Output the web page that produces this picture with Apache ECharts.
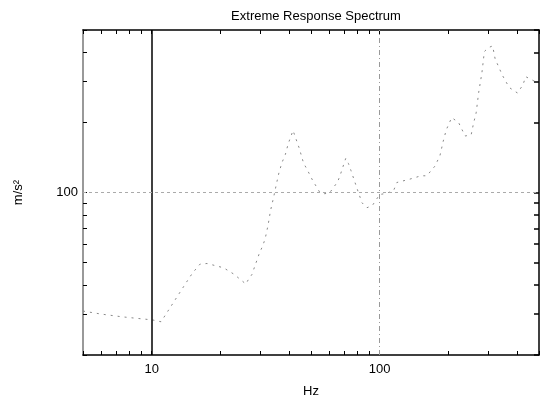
<!DOCTYPE html>
<html><head><meta charset="utf-8">
<script src="https://cdn.jsdelivr.net/npm/echarts@6/dist/echarts.min.js"></script>
<style>html,body{margin:0;padding:0;background:#fff}#c{width:542px;height:403px}</style>
</head><body><div id="c"></div>
<script>
// ---- data ----
const freqHz = [5, 6, 7.4, 9.1, 10.1, 11, 14, 15.1, 16.3, 17.5, 19.3, 20.7, 22.9, 25.9, 26.7, 27.5, 29, 29.7, 30.7, 31.5, 32.4, 33.2, 34.3, 35.3, 36.2, 37.3, 38.6, 39.7, 41.7, 44.4, 46.4, 47.9, 50.8, 54.7, 57.5, 60.5, 65.4, 67.1, 71, 73, 74.9, 77.2, 79.4, 83.7, 88, 93, 100, 106, 115, 119, 135, 152, 161, 175, 184, 190, 196, 207, 222, 237, 252, 258, 265, 272, 281, 288, 300, 313, 321, 345, 370, 402, 425, 437, 475, 500];
const accel = [30.9, 30.0, 29.2, 28.6, 28.3, 27.8, 40.2, 45, 49.2, 49.5, 48.3, 47.4, 44.6, 40.4, 42.6, 44.3, 51.3, 54.9, 58.9, 63.5, 72.2, 83.3, 95.7, 109.3, 122, 134.5, 145.8, 161.8, 184.8, 155.1, 133.6, 126.5, 112.9, 100, 98.8, 100, 111.1, 118.5, 140.2, 133.2, 124.1, 113.7, 104.8, 90.3, 86, 88, 98, 99, 101.6, 110.4, 114, 118, 118, 130, 144.5, 166, 186, 210, 200, 175, 177, 198, 220, 270, 328, 404, 420, 427, 376, 320, 283, 268, 290, 315, 302, 305];
const xTickValues = [5, 6, 7, 8, 9, 10, 20, 30, 40, 50, 60, 70, 80, 90, 100, 200, 300, 400, 500];
const yTickValues = [20, 30, 40, 50, 60, 70, 80, 90, 100, 200, 300, 400, 500];
const xLabelValues = [10, 100];
const yLabelValues = [100];
const titleText = 'Extreme Response Spectrum';
const xName = 'Hz';
const yName = 'm/s\u00b2';

const font = "'Liberation Sans', Arial, sans-serif";
const chart = echarts.init(document.getElementById('c'), null, {renderer: 'canvas'});

function xAxisDef(pos, labels, lineColor, lineWidth) {
  return {
    type: 'log', logBase: 10, min: 5, max: 500, position: pos,
    splitLine: {show: false},
    axisLine: {show: true, onZero: false, lineStyle: {color: lineColor, width: lineWidth}},
    axisTick: {show: true, inside: true, length: 4, customValues: xTickValues, lineStyle: {color: '#000', width: 1}},
    axisLabel: labels ? {show: true, customValues: xLabelValues, margin: 8, fontSize: 13, fontFamily: font, color: '#000'} : {show: false},
    name: labels ? xName : '', nameLocation: 'middle', nameGap: 30,
    nameTextStyle: {fontSize: 13, fontFamily: font, color: '#000'}
  };
}
function yAxisDef(pos, labels, lineColor, lineWidth, tickLen, tickWidth) {
  return {
    type: 'log', logBase: 10, min: 20, max: 500, position: pos,
    splitLine: {show: false},
    axisLine: {show: true, onZero: false, lineStyle: {color: lineColor, width: lineWidth}},
    axisTick: {show: true, inside: true, length: tickLen, customValues: yTickValues, lineStyle: {color: '#000', width: tickWidth}},
    axisLabel: labels ? {show: true, customValues: yLabelValues, margin: 5, fontSize: 13, fontFamily: font, color: '#000'} : {show: false},
    name: labels ? yName : '', nameLocation: 'middle', nameGap: 58, nameRotate: 90,
    nameTextStyle: {fontSize: 13, fontFamily: font, color: '#000'}
  };
}

chart.setOption({
  animation: false,
  backgroundColor: '#fff',
  title: {
    text: titleText, left: 311, top: 5, textAlign: 'center',
    textStyle: {fontSize: 13, fontWeight: 'normal', fontFamily: font, color: '#000'}
  },
  grid: {left: 83, right: 3, top: 30, bottom: 41, show: false},
  xAxis: [xAxisDef('bottom', true, '#000', 1.5), xAxisDef('top', false, '#000', 1.5)],
  yAxis: [yAxisDef('left', true, '#999', 2, 4, 1), yAxisDef('right', false, '#000', 1.5, 5, 1.5)],
  series: [{
    type: 'line',
    xAxisIndex: 0, yAxisIndex: 0,
    data: freqHz.map((f, i) => [f, accel[i]]),
    showSymbol: false,
    lineStyle: {color: '#888', width: 1, type: [2, 5]},
    markLine: {
      silent: true, symbol: 'none', label: {show: false},
      data: [
        {xAxis: 10, lineStyle: {color: '#000', width: 1.5, type: 'solid'}},
        {xAxis: 100, lineStyle: {color: '#999', width: 1, type: [5, 3, 1, 3]}},
        {yAxis: 100, lineStyle: {color: '#aaa', width: 1, type: [3, 3]}}
      ]
    }
  }]
});
</script>
</body></html>
